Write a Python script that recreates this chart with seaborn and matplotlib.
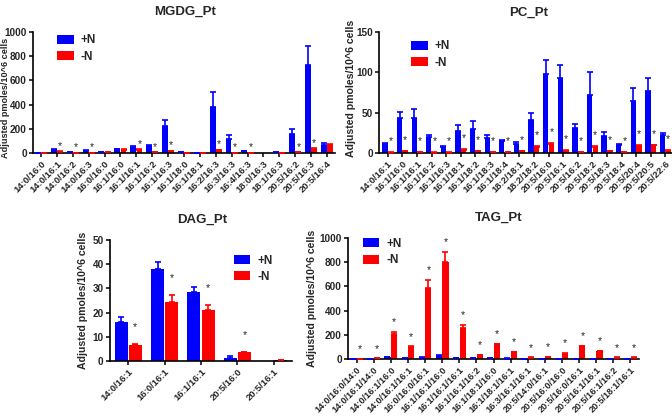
import numpy as np
import pandas as pd
import matplotlib
matplotlib.use("Agg")
import matplotlib.pyplot as plt
import seaborn as sns

sns.set_theme(style="ticks")
plt.rcParams['font.family'] = ['Liberation Sans', 'DejaVu Sans']
plt.rcParams['font.weight'] = 'bold'
plt.rcParams['axes.labelweight'] = 'bold'
plt.rcParams['axes.titleweight'] = 'bold'

conds = ['+N', '-N']
colors = {'+N': '#0000FF', '-N': '#FF0000'}

# ---------------- MGDG ----------------
mgdg_cats = ['14:0/16:0', '14:0/16:1', '14:0/16:2', '14:0/16:3', '16:0/16:0', '16:1/16:0',
             '16:1/16:1', '16:1/16:2', '16:1/16:3', '16:1/18:0', '16:1/18:1', '16:2/16:3',
             '16:3/16:3', '16:4/16:3', '18:0/16:3', '18:1/16:3', '20:5/16:2', '20:5/16:3',
             '20:5/16:4']
mgdg_pos = [3, 25, 8, 18, 5, 30, 50, 60, 224, 5, 2, 377, 119, 15, 0, 5, 158, 728, 69]
mgdg_pos_err = [1, 5, 2, 4, 1, 3, 6, 10, 50, 2, 1, 124, 28, 3, 0, 1, 39, 158, 10]
mgdg_neg = [3, 10, 2, 3, 5, 27, 28, 5, 15, 3, 3, 22, 3, 2, 0, 2, 5, 32, 68]
mgdg_neg_err = [1, 3, 1, 1, 1, 3, 4, 2, 4, 1, 1, 5, 1, 1, 0, 1, 1, 6, 6]
mgdg_sig = [0, 1, 1, 1, 0, 0, 1, 1, 1, 0, 0, 1, 1, 1, 0, 0, 1, 1, 0]

# ---------------- PC ----------------
pc_cats = ['14:0/16:1', '16:1/16:0', '16:1/16:1', '16:1/16:2', '16:1/16:3', '16:1/18:1',
           '16:1/18:2', '16:1/18:3', '16:1/18:4', '18:2/18:1', '18:2/18:2', '20:5/16:0',
           '20:5/16:1', '20:5/16:2', '20:5/18:2', '20:5/18:3', '20:5/18:4', '20:5/20:4',
           '20:5/20:5', '20:5/22:6']
pc_pos = [11, 43.5, 44, 19.5, 8, 27, 30, 18.5, 14.5, 11, 41, 98, 93, 31.5, 72, 21, 10.5, 65, 77, 22]
pc_pos_err = [1.4, 7.5, 10, 2.5, 1, 8, 10, 3.5, 2, 3, 8, 17, 16, 4.5, 28, 4.5, 1, 15, 16, 3]
pc_neg = [0.5, 2.5, 1.5, 0.5, 0.5, 4, 2, 1, 1, 2.5, 8, 11, 3, 1, 7.5, 2, 1, 9, 9.5, 3]
pc_neg_err = [0.3, 0.5, 0.3, 0.2, 0.2, 0.8, 0.5, 0.3, 0.3, 0.5, 1, 1.5, 0.8, 0.3, 1, 0.5, 0.3, 1, 1, 0.8]
pc_sig = [1] * 20

# ---------------- DAG ----------------
dag_cats = ['14:0/16:1', '16:0/16:1', '16:1/16:1', '20:5/16:0', '20:5/16:1']
dag_pos = [16, 38.2, 28.4, 1.1, 0]
dag_pos_err = [2.3, 2.6, 2.0, 0.8, 0]
dag_neg = [6.6, 24.4, 21.1, 3.7, 0.3]
dag_neg_err = [0.3, 2.7, 2.0, 0.2, 0.05]
dag_sig = [1, 1, 1, 1, 0]

# ---------------- TAG ----------------
tag_cats = ['14:0/16:0/14:0', '14:0/16:1/14:0', '14:0/16:1/16:0', '14:0/16:1/16:1',
            '16:0/16:0/16:1', '16:1/16:1/16:0', '16:1/16:1/16:1', '16:1/16:1/16:2',
            '16:1/18:1/16:0', '16:1/18:1/16:1', '16:3/16:1/16:1', '20:5/14:0/16:1',
            '20:5/16:0/16:0', '20:5/16:0/16:1', '20:5/16:1/16:1', '20:5/16:1/16:2',
            '20:5/18:1/16:1']
tag_pos = [2, 3, 14, 10, 12, 28, 10, 5, 5, 4, 3, 2, 2, 3, 3, 2, 2]
tag_pos_err = [0.5, 0.5, 2, 2, 2, 3, 2, 1, 1, 1, 0.5, 0.5, 0.5, 0.5, 0.5, 0.5, 0.5]
tag_neg = [3, 5, 207, 96, 587, 799, 259, 30, 121, 55, 12, 18, 44, 105, 63, 12, 12]
tag_neg_err = [1, 1, 20, 8, 70, 85, 20, 4, 6, 5, 2, 2, 4, 6, 5, 2, 2]
tag_sig = [1] * 17

TITLE_FS = 9.5
TICK_FS = 6.8
YL_FS = 7.6
LEG_FS = 8.5
AST_FS = 7.5


def panel(fig, rect, title, cats, pos, pos_err, neg, neg_err, sig, ymax, ystep,
          xlim, leg_anchor, ast_off, title_xy, ylabel_xy, xtick_fs=TICK_FS, yl_fs=YL_FS):
    ax = fig.add_axes(rect)
    df = pd.DataFrame({
        'cat': cats * 2,
        'cond': ['+N'] * len(cats) + ['-N'] * len(cats),
        'val': list(pos) + list(neg),
    })
    sns.barplot(data=df, x='cat', y='val', hue='cond', order=cats, hue_order=conds,
                palette=colors, saturation=1, errorbar=None, width=0.78, gap=0.08,
                ax=ax, legend=True, linewidth=0)
    errs = [pos_err, neg_err]
    for ci, cont in enumerate(ax.containers[:2]):
        xs = [b.get_x() + b.get_width() / 2 for b in cont]
        hs = [b.get_height() for b in cont]
        e = np.array(errs[ci], dtype=float)
        mask = e > 0
        ax.errorbar(np.array(xs)[mask], np.array(hs)[mask],
                    yerr=[np.zeros(mask.sum()), e[mask]], fmt='none',
                    ecolor=colors[conds[ci]], elinewidth=1.2, capsize=2.2,
                    capthick=1.2, zorder=3)
        if ci == 1:
            for x, h, ee, s in zip(xs, hs, errs[ci], sig):
                if s:
                    ax.text(x, h + ee + ast_off * ymax, '*', ha='center', va='center',
                            fontsize=AST_FS, color='#222222', fontweight='normal')
    ax.set_ylim(0, ymax)
    ax.set_yticks(np.arange(0, ymax + 1e-9, ystep))
    ax.set_xlim(*xlim)
    ax.set_xlabel('')
    ax.set_ylabel('')
    sns.despine(ax=ax)
    for sp in ['left', 'bottom']:
        ax.spines[sp].set_linewidth(1.2)
        ax.spines[sp].set_color('black')
    ax.tick_params(axis='both', length=3, width=1.1, color='black', pad=1.5)
    ax.tick_params(axis='y', labelsize=TICK_FS + 0.4)
    ax.set_xticks(range(len(cats)))
    ax.set_xticklabels(cats, rotation=45, ha='right', rotation_mode='anchor',
                       fontsize=xtick_fs, fontweight='bold')
    for lab in ax.get_yticklabels():
        lab.set_fontweight('bold')
    sns.move_legend(ax, loc='upper left', bbox_to_anchor=leg_anchor, frameon=False,
                    title=None, fontsize=LEG_FS, handlelength=1.4, handleheight=0.8,
                    handletextpad=0.6, labelspacing=0.35, borderaxespad=0, borderpad=0)
    for t in ax.get_legend().get_texts():
        t.set_fontweight('bold')
    fig.text(title_xy[0] / 672, 1 - title_xy[1] / 417, title, ha='center', va='center',
             fontsize=TITLE_FS, fontweight='bold')
    fig.text(ylabel_xy[0] / 672, 1 - ylabel_xy[1] / 417, 'Adjusted pmoles/10^6 cells',
             rotation=90, ha='center', va='center', fontsize=yl_fs, fontweight='bold')
    return ax


fig = plt.figure(figsize=(6.72, 4.17), dpi=100)

panel(fig, [33 / 672, 1 - 153 / 417, 302 / 672, 121 / 417], 'MGDG_Pt',
      mgdg_cats, mgdg_pos, mgdg_pos_err, mgdg_neg, mgdg_neg_err, mgdg_sig,
      1000, 200, (-0.5, 18.5), (0.08, 0.98), 0.045, (185, 12), (6, 98), yl_fs=6.6)

panel(fig, [379 / 672, 1 - 153 / 417, 293 / 672, 121 / 417], 'PC_Pt',
      pc_cats, pc_pos, pc_pos_err, pc_neg, pc_neg_err, pc_sig,
      150, 50, (-0.6, 19.45), (0.11, 0.93), 0.09, (529, 13), (351, 88))

panel(fig, [110 / 672, 1 - 361 / 417, 182 / 672, 121 / 417], 'DAG_Pt',
      dag_cats, dag_pos, dag_pos_err, dag_neg, dag_neg_err, dag_sig,
      50, 10, (-0.5, 4.5), (0.68, 0.88), 0.14, (202, 220), (83, 300))

panel(fig, [348 / 672, 1 - 359 / 417, 291 / 672, 121 / 417], 'TAG_Pt',
      tag_cats, tag_pos, tag_pos_err, tag_neg, tag_neg_err, tag_sig,
      1000, 200, (-0.5, 16.5), (0.05, 1.0), 0.08, (499, 218), (312, 298), xtick_fs=6.6)

fig.savefig('out.png', dpi=100, facecolor='white')
